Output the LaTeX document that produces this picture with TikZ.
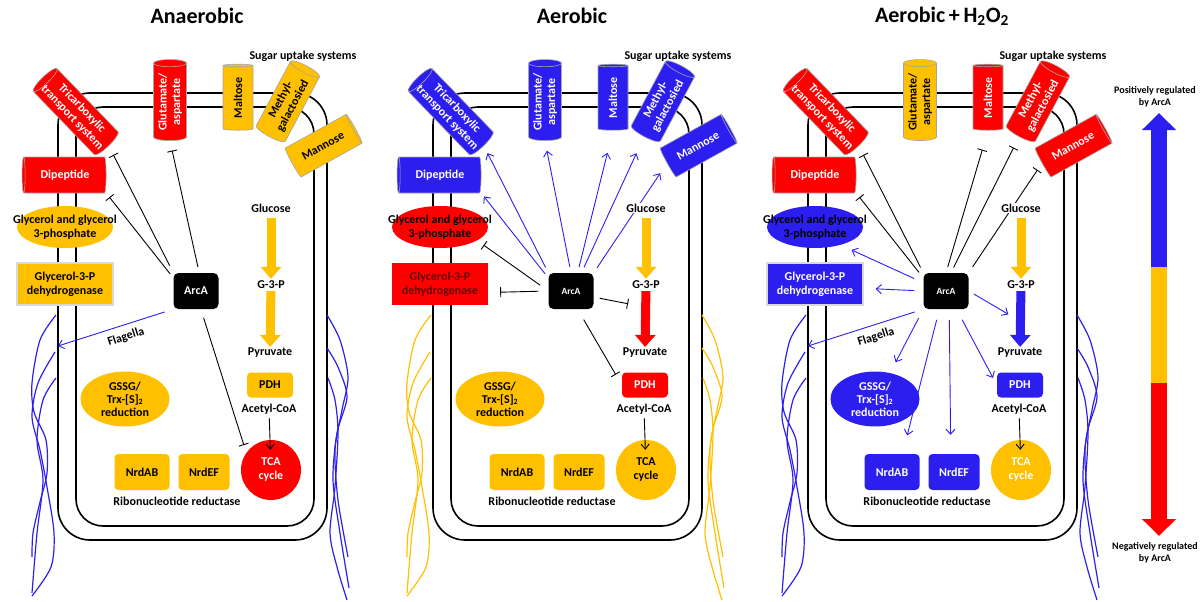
\documentclass[tikz,border=0pt]{standalone}
\usepackage{fontspec}
\setmainfont{Carlito}
\usetikzlibrary{shapes.geometric, arrows.meta}

\definecolor{arcred}{RGB}{255,0,0}
\definecolor{arcyel}{RGB}{255,192,0}
\definecolor{arcblue}{RGB}{45,30,240}

\tikzset{
  R/.style={fill=arcred, text=white},
  Y/.style={fill=arcyel, text=black},
  B/.style={fill=arcblue, text=white},
  membrane/.style={draw=black, line width=1.6pt},
  flag/.style={line width=1.2pt, cflag},
  cyl/.style={cylinder, draw=black!35, line width=0.6pt, aspect=0.3, minimum width=33pt,
    inner sep=0pt, align=center, font=\bfseries\fontsize{12}{13.5}\selectfont},
  oval/.style={ellipse, inner sep=0pt, align=center},
  box/.style={rectangle, rounded corners=4pt, inner sep=1pt, align=center},
  lbl/.style={inner sep=1pt, align=center},
  title/.style={font=\bfseries\fontsize{22}{24}\selectfont},
  small/.style={font=\bfseries\fontsize{10}{12}\selectfont, align=center},
  glow/.style={draw=black!15, line width=1.5pt},
  inh/.style={draw=black, line width=0.9pt, -{Bar[width=10pt,line width=0.9pt]}},
  act/.style={draw=arcblue, line width=0.9pt, -{Straight Barb[length=5pt,width=9pt]}},
  feed/.style={draw=black, line width=0.9pt, -{Straight Barb[length=5pt,width=8pt]}},
  fat/.style={line width=9pt, -{Triangle[length=12pt,width=20pt]}},
  legend/.style={line width=16pt, -{Triangle[length=17pt,width=33pt]}},
}

% one cell; #1 = regulation by ArcA
\newcommand{\cellbody}[1]{%
  % membranes
  \draw[membrane, rounded corners=32pt] (58,93) rectangle (327,540);
  \draw[membrane, rounded corners=27pt] (76,107) rectangle (314,526);
  % flagella
  \draw[flag] plot[smooth] coordinates {(56,315) (40,340) (32,383) (34,412) (46,440) (47,473) (40,502) (33,533) (32,557)};
  \draw[flag] plot[smooth] coordinates {(55,352) (38,383) (32,417) (40,450) (47,487) (54,533) (51,567) (32,596)};
  \draw[flag] plot[smooth] coordinates {(56,378) (43,400) (37,440) (43,480) (37,533) (32,593)};
  \draw[flag] plot[smooth] coordinates {(327,315) (340,340) (348,377) (342,410) (335,450) (338,500) (348,557)};
  \draw[flag] plot[smooth] coordinates {(327,348) (338,367) (347,397) (337,433) (333,480) (340,533) (349,588)};
  \draw[flag] plot[smooth] coordinates {(328,378) (335,400) (338,433) (335,487) (330,533) (337,567) (347,600)};
  \coordinate (flg) at (58,346);
  % transporters
  \node[cyl, ctri, rotate=-46, shape border rotate=180, minimum height=90pt] (tri) at (77,113) {Tricarboxylic\\transport system};
  \node[cyl, cglu, rotate=90, minimum height=81pt] (glu) at (170,102) {Glutamate/\\aspartate};
  \node[cyl, cmal, rotate=90, minimum height=66pt, minimum width=30pt] (mal) at (238,98) {Maltose};
  \node[cyl, cmet, rotate=62, minimum height=80pt] (met) at (287,103) {Methyl-\\galactosied};
  \node[cyl, cman, rotate=29, minimum height=72pt] (man) at (323,146) {Mannose};
  \node[cyl, cdip, shape border rotate=180, minimum height=84pt, minimum width=36pt] (dip) at (65,175) {Dipeptide};
  \node[lbl] (sug) at (303,56) {Sugar uptake systems};
  % cytoplasm
  \node[oval, cgly, minimum width=96pt, minimum height=42pt] (gly) at (65,227) {};
  \node[lbl, text=black] (glyt) at (gly) {Glycerol and glycerol\\3-phosphate};
  \node[box, sharp corners, cghd, minimum width=96pt, minimum height=42pt] (ghd) at (65,284) {Glycerol-3-P\\dehydrogenase};
  \node[box, fill=black, text=white, rounded corners=5pt, minimum width=45pt, minimum height=36pt, carc] (arc) at (196,291) {ArcA};
  \node[lbl] (g3p) at (271,285) {G-3-P};
  \node[lbl] (pyr) at (270,353) {Pyruvate};
  \node[box, cpdh, minimum width=46pt, minimum height=25pt] (pdh) at (270,385) {PDH};
  \node[lbl] (aco) at (269,409) {Acetyl-CoA};
  \node[circle, ctca, minimum size=60pt, inner sep=0pt, align=center] (tca) at (271,470) {TCA\\cycle};
  \node[oval, cgss, minimum width=89pt, minimum height=55pt, font=\bfseries\fontsize{12}{13}\selectfont] (gss) at (125,399) {GSSG/\\Trx-[S]\textsubscript{2}\\reduction};
  \node[box, cnrd, minimum width=55pt, minimum height=36pt] (nab) at (142,472) {NrdAB};
  \node[box, cnrd, minimum width=51pt, minimum height=36pt] (nef) at (204,472) {NrdEF};
  \node[lbl] (rnr) at (177,501) {Ribonucleotide reductase};
  % pathway
  \draw[fat, cgp, shorten <=1pt] (g3p) -- coordinate[pos=0.3] (gpa) coordinate[pos=0.55] (gpb) (pyr);
  \draw[feed, shorten <=3pt, shorten >=-10pt] (aco) -- (tca);
  #1
  \node[lbl, fill=white] (glc) at (271,208) {Glucose};
  \draw[fat, draw=arcyel, shorten <=5pt, shorten >=1pt] (glc) -- (g3p);
}

\begin{document}
\begin{tikzpicture}[x=1pt, y=-1pt, every node/.append style={font=\bfseries\fontsize{12}{14}\selectfont}]
\useasboundingbox (0,0) rectangle (1200,602);

% anaerobic
\begin{scope}[name prefix=an-, ctri/.style=R, cglu/.style=R, cmal/.style=Y, cmet/.style=Y, cman/.style=Y,
  cdip/.style=R, cgly/.style=Y, cghd/.style={Y, glow}, cgss/.style=Y, cpdh/.style=Y, ctca/.style=R,
  cnrd/.style=Y, cflag/.style={draw=arcblue}, cgp/.style={draw=arcyel}, carc/.style={}]
  \node[title] (ttl) at (197,16) {Anaerobic};
  \cellbody{%
    \draw[inh, shorten <=8pt, shorten >=10pt] (arc.north west) -- (tri.east);
    \draw[inh, shorten <=5pt, shorten >=5pt] (arc.150) -- (dip.east |- dip.south);
    \draw[inh, shorten <=6pt, shorten >=10pt] (arc.80) -- (glu.west);
    \draw[inh, shorten <=9pt, shorten >=8pt] (arc.-75) -- (tca.145);
    \draw[act, shorten <=9pt] (arc.south west) -- (flg);
    \node[lbl, rotate=18] (flt) at (126,337) {Flagella};
  }
\end{scope}

% aerobic
\begin{scope}[xshift=375pt, name prefix=ae-, ctri/.style=B, cglu/.style=B, cmal/.style=B, cmet/.style=B, cman/.style=B,
  cdip/.style=B, cgly/.style=R, cghd/.style={R, text=arcred!40!black}, cgss/.style=Y, cpdh/.style=R, ctca/.style=Y,
  cnrd/.style=Y, cflag/.style={draw=arcyel}, cgp/.style={draw=arcred}, carc/.style={font=\bfseries\fontsize{9.5}{11}\selectfont}]
  \node[title] (ttl) at (197,16) {Aerobic};
  \cellbody{%
    \draw[act, shorten <=6pt, shorten >=8pt] (arc.north west) -- (tri.east);
    \draw[act, shorten <=5pt, shorten >=4pt] (arc.150) -- (dip.east |- dip.south);
    \draw[act, shorten <=6pt, shorten >=10pt] (arc.north) -- (glu.west);
    \draw[act, shorten <=6pt, shorten >=23pt] (arc.70) -- (mal.west);
    \draw[act, shorten <=6pt, shorten >=18pt] (arc.60) -- (met.west);
    \draw[act, shorten <=6pt, shorten >=12pt] (arc.north east) -- (man.west);
    \draw[inh, shorten <=10pt, shorten >=8pt] (arc.west) -- (gly.-20);
    \draw[inh, shorten <=10pt, shorten >=12pt] (arc.west) -- (ghd.-10);
    \draw[inh, shorten <=6pt, shorten >=18pt] (arc.-15) -- (gpa);
    \draw[inh, shorten <=12pt, shorten >=12pt] (arc.-70) -- (pdh.west);
  }
\end{scope}

% aerobic + H2O2
\begin{scope}[xshift=750pt, name prefix=hp-, ctri/.style=R, cglu/.style=Y, cmal/.style=R, cmet/.style=R, cman/.style=R,
  cdip/.style=R, cgly/.style=B, cghd/.style={B, glow}, cgss/.style=B, cpdh/.style=B, ctca/.style={Y, text=white},
  cnrd/.style=B, cflag/.style={draw=arcblue}, cgp/.style={draw=arcblue}, carc/.style={font=\bfseries\fontsize{9.5}{11}\selectfont}]
  \node[title] (ttl) at (192,16) {Aerobic\,+\,H\textsubscript{2}O\textsubscript{2}};
  \cellbody{%
    \draw[inh, shorten <=6pt, shorten >=10pt] (arc.north west) -- (tri.east);
    \draw[inh, shorten <=7pt, shorten >=5pt] (arc.150) -- (dip.east |- dip.south);
    \draw[inh, shorten <=6pt, shorten >=20pt] (arc.north) -- (mal.west);
    \draw[inh, shorten <=6pt, shorten >=12pt] (arc.75) -- (met.west);
    \draw[inh, shorten <=7pt, shorten >=8pt] (arc.north east) -- (man.west);
    \draw[act, shorten <=10pt, shorten >=12pt] (arc.160) -- (gly.-35);
    \draw[act, shorten <=9pt, shorten >=12pt] (arc.west) -- (ghd.-5);
    \draw[act, shorten <=9pt] (arc.south west) -- (flg);
    \draw[act, shorten <=6pt, shorten >=14pt] (arc.east) -- (gpb);
    \draw[act, shorten <=10pt, shorten >=12pt] (arc.south west) -- (gss.60);
    \draw[act, shorten <=11pt, shorten >=19pt] (arc.-110) -- (nab.60);
    \draw[act, shorten <=11pt, shorten >=19pt] (arc.-80) -- (nef.100);
    \draw[act, shorten <=12pt, shorten >=8pt] (arc.-60) -- (pdh.west);
    \node[lbl, rotate=18] (flt) at (126,337) {Flagella};
  }
\end{scope}

% legend
\node[small] (pos) at (1155,97) {Positively regulated\\by ArcA};
\node[small] (neg) at (1155,553) {Negatively regulated\\by ArcA};
\coordinate (lgtop) at (1159,113);
\coordinate (lgby) at (1159,267);
\coordinate (lgyr) at (1159,383);
\coordinate (lgbot) at (1159,536);
\draw[line width=16pt, draw=arcyel] (lgby) -- (lgyr);
\draw[legend, draw=arcblue] (lgby) -- (lgtop);
\draw[legend, draw=arcred] (lgyr) -- (lgbot);
\end{tikzpicture}
\end{document}
